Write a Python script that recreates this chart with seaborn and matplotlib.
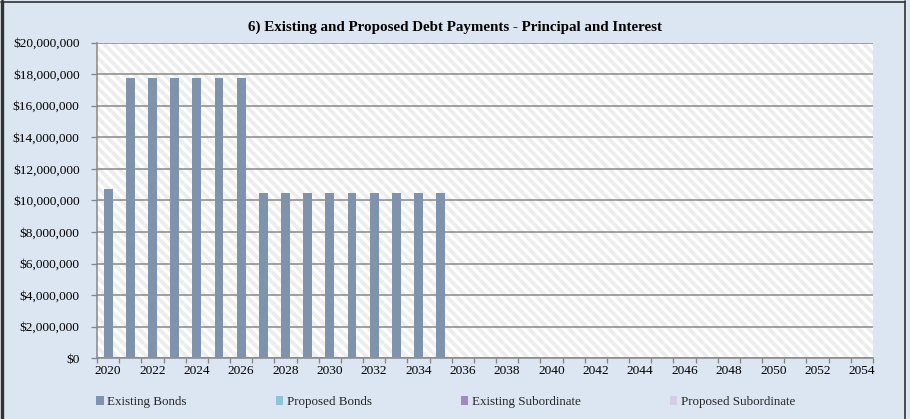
import numpy as np
import pandas as pd
import matplotlib
matplotlib.use("Agg")
import matplotlib.pyplot as plt
from matplotlib.patches import Rectangle, Patch
from matplotlib.lines import Line2D
from matplotlib.ticker import FuncFormatter, FixedLocator
import seaborn as sns

# ---- data -------------------------------------------------------------
years = list(range(2020, 2055))
existing_bonds = [10_750_000] + [17_750_000] * 6 + [10_480_000] * 9 + [0] * 19
proposed_bonds = [0] * 35
existing_subordinate = [0] * 35
proposed_subordinate = [0] * 35

series_names = ["Existing Bonds", "Proposed Bonds",
                "Existing Subordinate", "Proposed Subordinate"]
series_values = [existing_bonds, proposed_bonds,
                 existing_subordinate, proposed_subordinate]
series_colors = ["#7f93ad", "#8ec5d6", "#9d8db8", "#d3cde6"]

title = "6) Existing and Proposed Debt Payments - Principal and Interest"
y_ticks = list(range(0, 20_000_001, 2_000_000))

# ---- style ------------------------------------------------------------
sns.set_theme(style="white")
plt.rcParams["font.family"] = ["Liberation Serif", "DejaVu Serif"]
plt.rcParams["hatch.linewidth"] = 2.3

DPI = 120
W, H = 910, 419
bg = "#dce6f2"

fig = plt.figure(figsize=(W / DPI, H / DPI), dpi=DPI, facecolor=bg)
ax = fig.add_axes([97 / W, 1 - 358.3 / H, (873 - 97) / W, (358.3 - 42.5) / H])
ax.set_facecolor("white")

# diagonal striped plot background
ax.add_patch(Rectangle((0, 0), 1, 1, transform=ax.transAxes, facecolor="white",
                       edgecolor="#ededed", hatch="\\\\\\\\", linewidth=0, zorder=0))

# stacked bars, one seaborn call per series
labels = [str(y) for y in years]
bottom = np.zeros(len(years))
for name, vals, col in zip(series_names, series_values, series_colors):
    df = pd.DataFrame({"Year": labels, "Amount": vals})
    sns.barplot(data=df, x="Year", y="Amount", color=col, width=0.4,
                bottom=bottom, ax=ax, zorder=3, saturation=1,
                edgecolor="none", linewidth=0)
    bottom = bottom + np.asarray(vals, dtype=float)

# ---- axes -------------------------------------------------------------
ax.set_xlim(-0.5, len(years) - 0.5)
ax.set_ylim(0, 20_000_000)
ax.set_xlabel("")
ax.set_ylabel("")

ax.set_yticks(y_ticks)
ax.yaxis.set_major_formatter(FuncFormatter(lambda v, p: f"${v:,.0f}"))
ax.tick_params(axis="y", length=3.5, width=0.8, color="#868686", pad=7,
               labelsize=8.0, labelcolor="black", left=True)
ax.grid(axis="y", color="#868686", linewidth=0.9, zorder=1)
ax.set_axisbelow(True)

ax.set_xticks(range(0, len(years), 2))
ax.set_xticklabels(labels[::2])
ax.tick_params(axis="x", which="major", length=0, pad=4, labelsize=8.0,
               labelcolor="black")
ax.xaxis.set_minor_locator(FixedLocator(np.arange(-0.5, len(years), 1)))
ax.tick_params(axis="x", which="minor", length=3, width=0.8, color="#868686",
               bottom=True)

for side in ["top", "right"]:
    ax.spines[side].set_visible(False)
for side in ["left", "bottom"]:
    ax.spines[side].set_color("#868686")
    ax.spines[side].set_linewidth(0.9)

# ---- title and legend -------------------------------------------------
fig.text(0.5, 1 - 27 / H, title, ha="center", va="center",
         fontsize=9.0, fontweight="bold", color="black")

handles = [Patch(facecolor=c, edgecolor="none") for c in series_colors]
fig.legend(handles, series_names, loc="center", ncol=4,
           bbox_to_anchor=(445.5 / W, 1 - 402 / H), frameon=False,
           fontsize=7.8, handlelength=0.6, handleheight=0.6,
           handletextpad=0.25, columnspacing=6.85, borderpad=0)

# ---- chart frame ------------------------------------------------------
frame = "#333333"
fig.add_artist(Line2D([2 / W, 2 / W], [0, 1 - 1 / H], transform=fig.transFigure,
                      color=frame, linewidth=2.0))
fig.add_artist(Line2D([1 / W, 905 / W], [1 - 1.5 / H, 1 - 1.5 / H],
                      transform=fig.transFigure, color=frame, linewidth=1.0))
fig.add_artist(Line2D([905 / W, 905 / W], [0, 1 - 1 / H], transform=fig.transFigure,
                      color=frame, linewidth=1.0))

fig.savefig("out.png", dpi=DPI, facecolor=bg)
